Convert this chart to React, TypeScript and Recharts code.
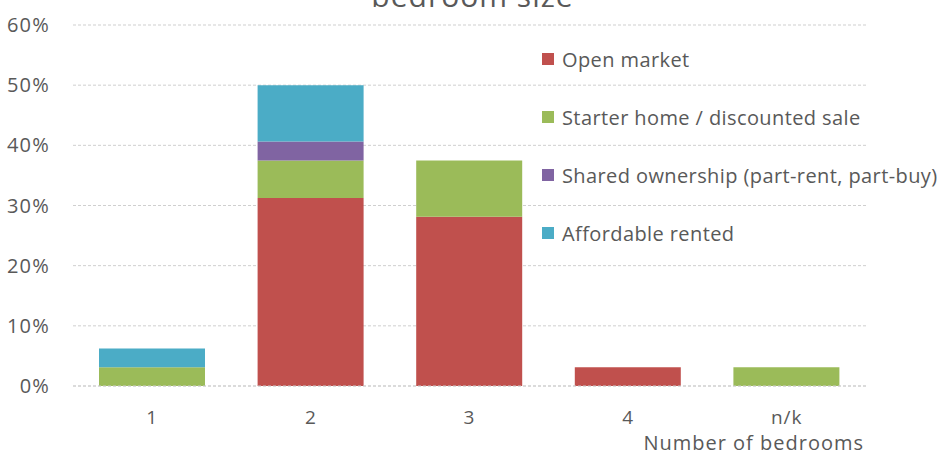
import { BarChart, Bar, XAxis, YAxis, CartesianGrid } from "recharts";

const categories = ["1", "2", "3", "4", "n/k"];
const openMarket = [0, 0.3125, 0.28125, 0.03125, 0];
const starterHome = [0.03125, 0.0625, 0.09375, 0, 0.03125];
const sharedOwnership = [0, 0.03125, 0, 0, 0];
const affordableRented = [0.03125, 0.09375, 0, 0, 0];
const yTicks = [0, 0.1, 0.2, 0.3, 0.4, 0.5, 0.6];

const series = [
  { key: "open", name: "Open market", color: "#C0504D", values: openMarket },
  { key: "starter", name: "Starter home / discounted sale", color: "#9BBB59", values: starterHome },
  { key: "shared", name: "Shared ownership (part-rent, part-buy)", color: "#8064A2", values: sharedOwnership },
  { key: "rented", name: "Affordable rented", color: "#4BACC6", values: affordableRented },
];

const data = categories.map((c, i) => {
  const row: Record<string, string | number> = { cat: c };
  for (const s of series) row[s.key] = s.values[i];
  return row;
});

const FONT = "'Open Sans', sans-serif";
const TEXT = "#595959";

export default function App() {
  return (
    <div style={{ position: "absolute", left: 0, top: 0, width: 945, height: 452, background: "#fff", overflow: "hidden" }}>
      <BarChart
        width={945}
        height={452}
        data={data}
        margin={{ top: 25, right: 79, left: 0, bottom: 0 }}
        style={{ position: "absolute", left: 0, top: 0 }}
      >
        <CartesianGrid vertical={false} stroke="#cfcfcf" strokeDasharray="3 2" />
        <XAxis
          dataKey="cat"
          height={66}
          tickLine={false}
          axisLine={{ stroke: "#cfcfcf", strokeDasharray: "3 2" }}
          tickSize={0}
          tickMargin={25}
          tick={{ fontFamily: FONT, fontSize: 19, fill: TEXT, letterSpacing: 1 }}
          label={{
            value: "Number of bedrooms", position: "insideBottomRight", offset: 2,
            fontFamily: FONT, fontSize: 20, fill: TEXT, letterSpacing: 1,
          }}
        />
        <YAxis
          width={73}
          domain={[0, 0.6]}
          ticks={yTicks}
          tickFormatter={(v: number) => `${Math.round(v * 100)}%`}
          tickLine={false}
          axisLine={false}
          tickSize={0}
          tickMargin={23}
          tick={{ fontFamily: FONT, fontSize: 20, fill: TEXT, letterSpacing: 1.2 }}
        />
        {series.map((s) => (
          <Bar key={s.key} dataKey={s.key} name={s.name} stackId="a" fill={s.color} barSize={106} isAnimationActive={false} />
        ))}
      </BarChart>
      <div
        style={{
          position: "absolute", left: 0, width: 945, top: -22, textAlign: "center",
          fontFamily: FONT, fontSize: 30, color: TEXT, lineHeight: "36px", letterSpacing: 1,
        }}
      >
        bedroom size
      </div>
      <div style={{ position: "absolute", left: 542, top: 30, fontFamily: FONT, fontSize: 20, color: TEXT, letterSpacing: 0.4 }}>
        {series.map((s) => (
          <div key={s.key} style={{ height: 58, display: "flex", alignItems: "center", whiteSpace: "nowrap" }}>
            <span style={{ display: "inline-block", width: 12, height: 12, background: s.color, marginRight: 8 }} />
            {s.name}
          </div>
        ))}
      </div>
    </div>
  );
}
